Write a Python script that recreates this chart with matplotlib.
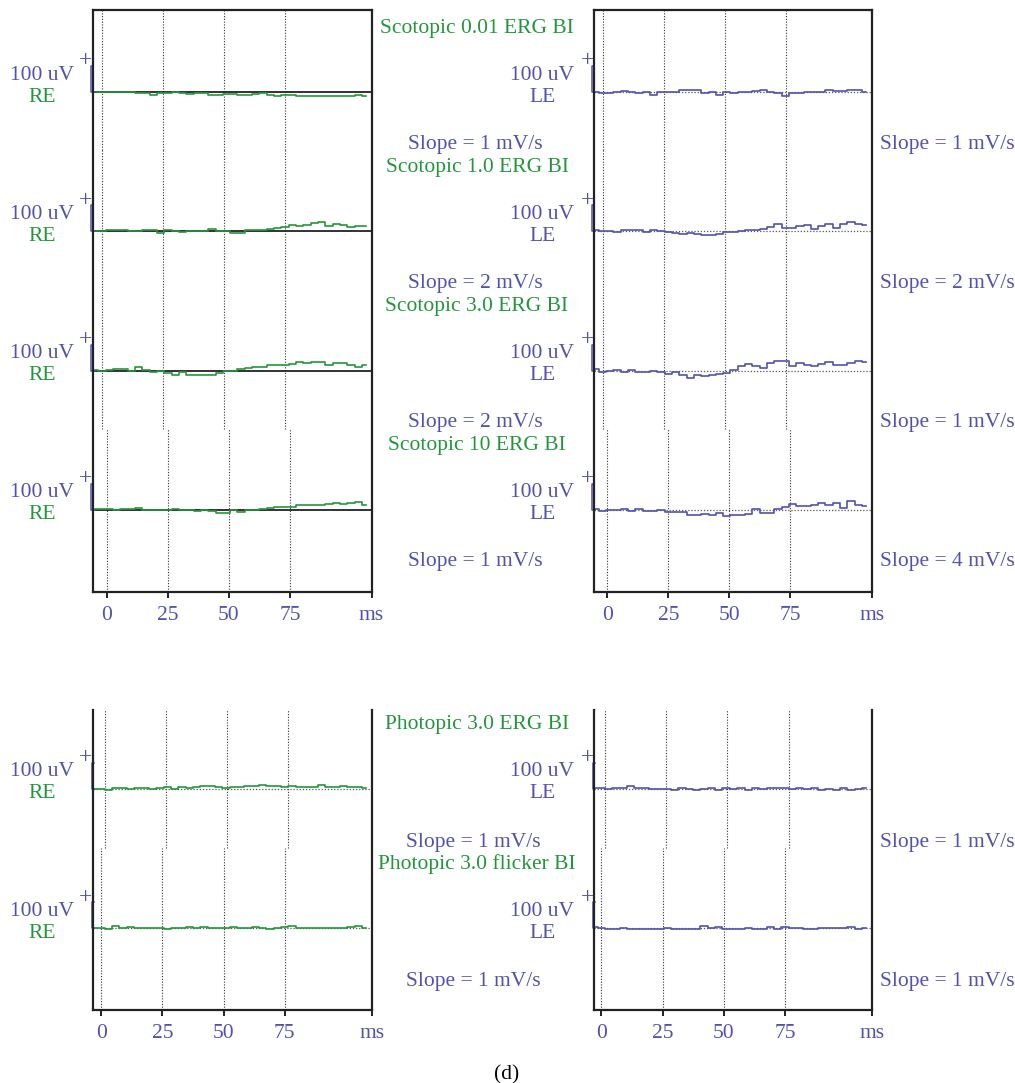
import numpy as np
import matplotlib
matplotlib.use('Agg')
import matplotlib.pyplot as plt

plt.rcParams['font.family'] = ['Liberation Serif', 'DejaVu Serif']

W, H = 1015, 1083
green = '#23963c'
blue = '#5252ae'

# sample times in ms
t_scot = np.arange(-5, 107, 3)
t_phot = np.arange(-3, 109, 3)

# scotopic traces, right eye (uV)
re_scot_001 = [0, 0, -2, -2, 0, -2, -4, -6, -10, -4, -4, -2, -6, -8, -6, -6, -10, -12, -8, -8,
               -12, -10, -8, -6, -12, -16, -12, -12, -14, -16, -14, -14, -16, -16, -14, -16, -12, -16]
re_scot_10 = [0, 1, 5, 5, 5, 0, 0, 5, 5, -5, 5, 3, -4, 0, 3, 0, 8, 3, 0, -8,
              -5, 5, 5, 5, 10, 13, 18, 23, 21, 26, 31, 34, 21, 29, 23, 18, 21, 22]
re_scot_30 = [3, 0, 3, 5, 5, -3, 13, 3, -5, -3, -10, -16, -5, -16, -18, -18, -16, -8, 0, 0,
              8, 10, 13, 13, 23, 21, 21, 26, 34, 29, 34, 34, 23, 29, 29, 21, 16, 23]
re_scot_100 = [3, 6, 3, 0, 3, 5, 8, 0, 0, 0, 0, 5, 0, 0, -5, 0, -5, -10, -10, 0,
               -8, 0, 0, 5, 8, 10, 10, 10, 18, 18, 21, 21, 23, 26, 23, 29, 31, 21]

# scotopic traces, left eye (uV)
le_scot_001 = [1, -6, -4, 1, 4, 1, -6, 1, -12, 1, 1, -1, 6, 6, 6, -4, 1, -12, -1, -4,
               1, 1, 4, 6, 1, -6, -14, -6, -4, -1, -1, 1, 6, 4, 4, 6, 6, -1]
le_scot_10 = [4, 1, 1, -1, 4, 4, 6, -1, 4, 1, -1, -6, -9, -6, -9, -14, -14, -9, -4, -1,
              1, 4, 6, 9, 17, 30, 14, 14, 22, 25, 9, 22, 30, 12, 27, 35, 30, 25]
le_scot_30 = [6, -6, -1, 4, -4, 1, -6, -4, -1, -6, -12, -6, -17, -27, -17, -20, -17, -12, -9, 1,
              17, 25, 17, 9, 30, 38, 38, 17, 30, 22, 17, 27, 35, 22, 20, 30, 38, 33]
le_scot_100 = [3, -3, 0, 0, 3, -5, 5, -5, -3, 0, -8, -8, -8, -18, -18, -16, -18, -13, -21, -18,
               -18, -16, 3, -10, -13, 3, 10, 23, 16, 16, 21, 26, 21, 26, 8, 34, 21, 16]

# photopic traces (uV)
re_phot_erg = [0, 0, -5, 3, 3, 0, 5, 5, 0, 5, 8, 0, 8, 5, 8, 13, 10, 8, 5, 8,
               8, 13, 13, 16, 10, 13, 8, 13, 8, 8, 8, 16, 8, 8, 13, 8, 8, 5]
re_phot_flk = [0, 0, -3, 8, 3, 5, 0, 0, 0, 0, -3, 3, 0, 5, 0, 5, 3, 0, 3, 5,
               3, 0, 5, 3, -3, 3, 5, 8, 3, 3, 3, 3, 3, 3, 3, 5, 8, 3]
le_phot_erg = [3, 3, 0, 3, 3, 10, 3, 3, 0, 0, 0, -5, 3, 0, -3, 0, 3, -3, 3, 0,
               3, -5, 3, 0, 3, 3, 5, 0, 3, 0, 5, -3, 0, -5, 3, -3, 0, 3]
le_phot_flk = [4, 1, -4, -1, 1, -1, -4, -1, -1, -1, 1, -4, -4, -4, -4, 9, 1, 4, -1, -1,
               -1, 1, -4, -1, 4, -1, 4, 1, 1, -1, -1, 1, 1, 1, 1, 6, -1, 1]

scot_titles = ['Scotopic 0.01 ERG BI', 'Scotopic 1.0 ERG BI', 'Scotopic 3.0 ERG BI', 'Scotopic 10 ERG BI']
scot_slope_re = [1, 2, 2, 1]
scot_slope_le = [1, 2, 1, 4]
phot_titles = ['Photopic 3.0 ERG BI', 'Photopic 3.0 flicker BI']
phot_slope_re = [1, 1]
phot_slope_le = [1, 1]
tick_vals = [0, 25, 50, 75]

spacing = 536   # uV between stacked traces
band_up, band_dn = 311, 225

fig = plt.figure(figsize=(W / 100, H / 100), dpi=100)


def ft(x, y, s, color, size=15.5, ha='center'):
    fig.text(x / W, 1 - (y + 2) / H, s, color=color, fontsize=size, ha=ha, va='center')


def panel(x0, x1, y0, y1, xlim, ylim, t, traces, shifts, color, solid, boxed, bar_x):
    ax = fig.add_axes([x0 / W, 1 - y1 / H, (x1 - x0) / W, (y1 - y0) / H])
    ax.set_xlim(*xlim)
    ax.set_ylim(*ylim)
    n = len(traces)
    for k, (vals, sh) in enumerate(zip(traces, shifts)):
        b = -k * spacing
        top = ylim[1] if k == 0 else b + band_up
        bot = ylim[0] if k == n - 1 else b - band_dn
        for tv in tick_vals:
            ax.plot([tv + sh, tv + sh], [bot, top], ls=(0, (1, 1.5)), color='#333333', lw=0.8)
        if solid:
            ax.axhline(b, color='#222222', lw=1.3)
        else:
            ax.axhline(b, color='#555555', lw=0.9, ls=(0, (1, 1.5)))
        ax.plot(t, np.array(vals) + b, color=color, lw=1.2, drawstyle='steps-mid')
        ax.plot([bar_x + 1.0, bar_x, bar_x, t[0]], [b + 100, b + 100, b, b],
                color=blue, lw=1.1, clip_on=False)
    for sp in ax.spines.values():
        sp.set_linewidth(1.6)
        sp.set_color('#222222')
    if not boxed:
        ax.spines['top'].set_visible(False)
    ax.set_yticks([])
    ax.set_xticks(tick_vals + [xlim[1]])
    ax.set_xticklabels([str(v) for v in tick_vals] + ['ms'])
    ax.tick_params(axis='x', direction='out', length=4, width=1.4, color='#222222',
                   labelcolor=blue, labelsize=15.5, pad=6)
    return ax


# scotopic panels
panel(93, 371.5, 10, 592, (-5.7, 108.4), (-1923, 315), t_scot,
      [re_scot_001, re_scot_10, re_scot_30, re_scot_100], [-2.2, -2.2, -2.2, 0],
      green, True, True, -6.5)
panel(593.5, 872, 10, 592, (-5.7, 108.6), (-1923, 315), t_scot,
      [le_scot_001, le_scot_10, le_scot_30, le_scot_100], [-1.8, -1.8, -1.8, 0],
      blue, False, True, -6.5)
# photopic panels
panel(93, 372, 710, 1010, (-3.3, 110.6), (-850, 304), t_phot,
      [re_phot_erg, re_phot_flk], [1.5, 0], green, False, False, -3.9)
panel(594, 872, 710, 1010, (-3.0, 110.6), (-850, 304), t_phot,
      [le_phot_erg, le_phot_flk], [1.5, 0], blue, False, False, -3.6)

step = 139.3
for k in range(4):
    dy = k * step
    ft(42, 73 + dy, '100 uV', blue)
    ft(42, 95 + dy, 'RE', green)
    ft(86, 59 + dy, '+', blue, size=17)
    ft(542, 73 + dy, '100 uV', blue)
    ft(543, 95 + dy, 'LE', blue)
    ft(587, 59 + dy, '+', blue, size=17)
    ft(477, 26 + dy, scot_titles[k], green)
    ft(475, 142 + dy, 'Slope = %d mV/s' % scot_slope_re[k], blue)
    ft(947, 142 + dy, 'Slope = %d mV/s' % scot_slope_le[k], blue)

for k in range(2):
    dy = 697 + k * step
    ft(42, 73 + dy, '100 uV', blue)
    ft(42, 95 + dy, 'RE', green)
    ft(86, 59 + dy, '+', blue, size=17)
    ft(542, 73 + dy, '100 uV', blue)
    ft(543, 95 + dy, 'LE', blue)
    ft(587, 59 + dy, '+', blue, size=17)
    ft(477, 26 + dy, phot_titles[k], green)
    ft(473, 143 + dy, 'Slope = %d mV/s' % phot_slope_re[k], blue)
    ft(947, 143 + dy, 'Slope = %d mV/s' % phot_slope_le[k], blue)

ft(507, 1073, '(d)', 'black')

fig.savefig('out.png', dpi=100)
